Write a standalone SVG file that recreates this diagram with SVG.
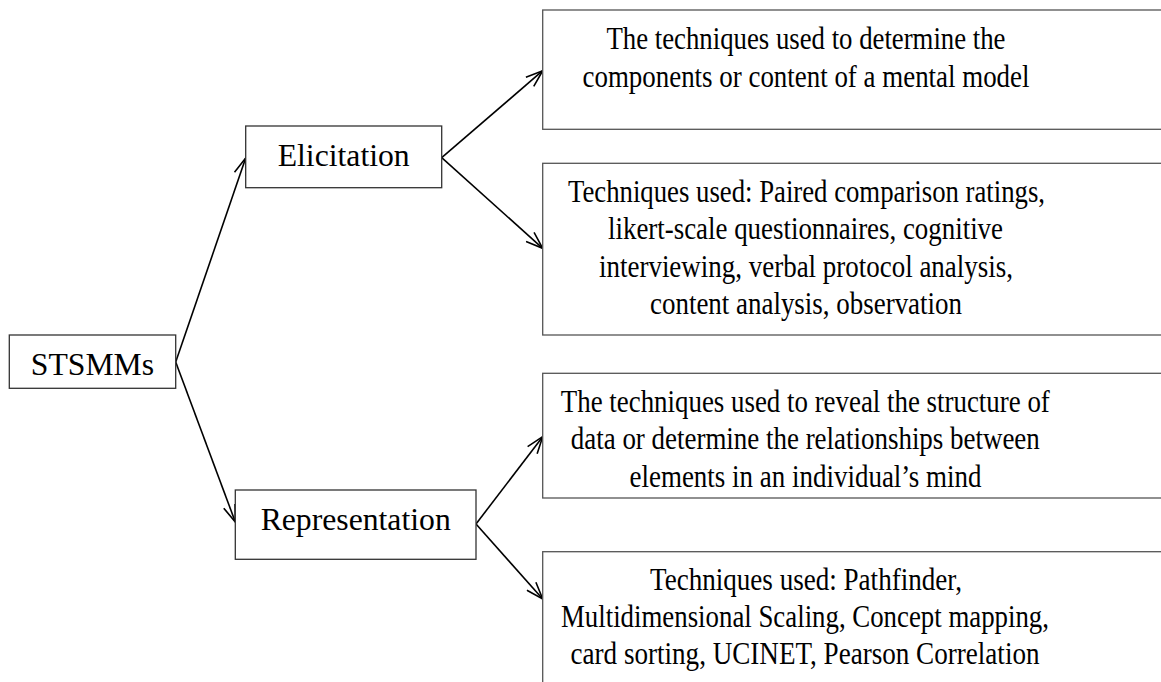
<svg xmlns="http://www.w3.org/2000/svg" width="1161" height="682" viewBox="0 0 1161 682">
<style>
.box{fill:#fff;stroke:#333;stroke-width:1.3}
.rbox{fill:#fff;stroke:#555;stroke-width:1.3}
.t{font-family:"Liberation Serif","Times New Roman",serif;font-size:31.7px;fill:#000;text-anchor:middle}
.edge{stroke:#000;stroke-width:1.6;fill:none;marker-end:url(#arr)}
</style>
<defs>
<marker id="arr" markerUnits="userSpaceOnUse" viewBox="0 0 20 14" refX="19" refY="7" markerWidth="20" markerHeight="14" orient="auto">
<path d="M2,1 L19,7 L2,13" fill="none" stroke="#000" stroke-width="1.6"/>
</marker>
</defs>
<rect width="1161" height="682" fill="#fff"/>
<g id="connectors">
<line class="edge" x1="175.7" y1="362" x2="245.7" y2="158"/>
<line class="edge" x1="175.7" y1="362" x2="235.3" y2="522"/>
<line class="edge" x1="441.7" y1="157.7" x2="542.7" y2="70.7"/>
<line class="edge" x1="441.7" y1="157.7" x2="542.7" y2="248.3"/>
<line class="edge" x1="476" y1="524" x2="542.7" y2="436.7"/>
<line class="edge" x1="476" y1="524" x2="542.7" y2="599"/>
</g>
<g id="stsmms">
<rect class="box" x="9.3" y="335" width="166.4" height="53.3"/>
<text class="t" x="92.5" y="375">STSMMs</text>
</g>
<g id="elicitation">
<rect class="box" x="245.7" y="126" width="196" height="61.7"/>
<text class="t" x="343.7" y="165.7">Elicitation</text>
</g>
<g id="representation">
<rect class="box" x="235.3" y="490" width="240.7" height="69.3"/>
<text class="t" x="355.7" y="530">Representation</text>
</g>
<g id="elic-def">
<rect class="rbox" x="542.7" y="10" width="630" height="119.3"/>
<text class="t" x="806" y="49.3" textLength="399" lengthAdjust="spacingAndGlyphs">The techniques used to determine the</text>
<text class="t" x="806" y="87.3" textLength="447" lengthAdjust="spacingAndGlyphs">components or content of a mental model</text>
</g>
<g id="elic-tech">
<rect class="rbox" x="542.7" y="163.3" width="630" height="171.7"/>
<text class="t" x="806.5" y="201.7" textLength="477" lengthAdjust="spacingAndGlyphs">Techniques used: Paired comparison ratings,</text>
<text class="t" x="805.5" y="239" textLength="395" lengthAdjust="spacingAndGlyphs">likert-scale questionnaires, cognitive</text>
<text class="t" x="806" y="276.7" textLength="414" lengthAdjust="spacingAndGlyphs">interviewing, verbal protocol analysis,</text>
<text class="t" x="806" y="314" textLength="312" lengthAdjust="spacingAndGlyphs">content analysis, observation</text>
</g>
<g id="rep-def">
<rect class="rbox" x="542.7" y="373.3" width="630" height="124.7"/>
<text class="t" x="805.3" y="412.3" textLength="489" lengthAdjust="spacingAndGlyphs">The techniques used to reveal the structure of</text>
<text class="t" x="805.3" y="449.3" textLength="469" lengthAdjust="spacingAndGlyphs">data or determine the relationships between</text>
<text class="t" x="805.5" y="486.7" textLength="352" lengthAdjust="spacingAndGlyphs">elements in an individual’s mind</text>
</g>
<g id="rep-tech">
<rect class="rbox" x="542.7" y="551.7" width="630" height="140"/>
<text class="t" x="806" y="590" textLength="312" lengthAdjust="spacingAndGlyphs">Techniques used: Pathfinder,</text>
<text class="t" x="805" y="627.3" textLength="488" lengthAdjust="spacingAndGlyphs">Multidimensional Scaling, Concept mapping,</text>
<text class="t" x="805" y="664.3" textLength="469" lengthAdjust="spacingAndGlyphs">card sorting, UCINET, Pearson Correlation</text>
</g>
</svg>
